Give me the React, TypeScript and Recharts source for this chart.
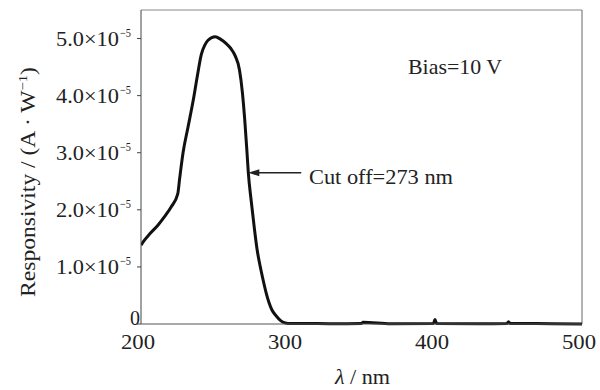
import React from "react";
import { LineChart, Line, XAxis, YAxis, ReferenceLine } from "recharts";

const wavelengths = [200, 201.5, 206, 211.5, 216, 220.5, 225, 226.3, 228.6, 232, 235.4, 238.3, 241, 243.5, 245.6, 250.5, 254, 258, 261, 264, 267, 269, 270.5, 272, 273, 275, 277, 279, 281, 283, 285, 287, 289, 292, 295, 298, 300, 310, 330, 350, 351, 370, 399, 400, 401, 430, 449, 450, 451, 480, 500];
const responsivity = [1.38, 1.44, 1.58, 1.73, 1.88, 2.05, 2.28, 2.55, 3.00, 3.45, 3.90, 4.34, 4.72, 4.89, 4.97, 5.03, 4.99, 4.91, 4.83, 4.70, 4.45, 4.05, 3.60, 3.05, 2.65, 2.15, 1.70, 1.30, 1.02, 0.78, 0.56, 0.38, 0.25, 0.14, 0.06, 0.02, 0.01, 0.01, 0.005, 0.01, 0.03, 0.005, 0.01, 0.08, 0.01, 0.005, 0.01, 0.04, 0.01, 0.005, 0.0];
const xTicks = [200, 300, 400, 500];
const yTicks = [0, 1, 2, 3, 4, 5];
const yTickLabels = ["0", "1.0×10", "2.0×10", "3.0×10", "4.0×10", "5.0×10"];
const cutoff = { x: 273, y: 2.65, labelX: 309 };

const data = wavelengths.map((w, i) => ({ wavelength: w, r: responsivity[i] }));

const FONT = "'Liberation Serif', 'DejaVu Serif', serif";
const INK = "#222";

const XTick = (props: any) => {
  const { x, y, payload } = props;
  return (
    <text x={x - 3} y={y + 17} textAnchor="middle" fontFamily={FONT} fontSize={22} fill={INK}
      textLength={34} lengthAdjust="spacingAndGlyphs">
      {String(payload.value)}
    </text>
  );
};

const YTick = (props: any) => {
  const { x, y, payload } = props;
  const idx = yTicks.indexOf(payload.value);
  const label = yTickLabels[idx];
  const ax = x + 4;
  if (payload.value === 0) {
    return (
      <text x={ax + 1} y={y + 1} textAnchor="end" fontFamily={FONT} fontSize={20} fill={INK}>
        {label}
      </text>
    );
  }
  return (
    <g>
      <text x={ax - 83} y={y + 7} textAnchor="start" fontFamily={FONT} fontSize={20} fill={INK}
        textLength={63} lengthAdjust="spacingAndGlyphs">
        {label}
      </text>
      <text x={ax - 19} y={y - 2} textAnchor="start" fontFamily={FONT} fontSize={12} fill={INK}
        textLength={11} lengthAdjust="spacingAndGlyphs">
        −5
      </text>
    </g>
  );
};

const ArrowShape = (props: any) => {
  const { x1, y1, x2 } = props;
  const tipX = Math.min(x1, x2);
  const endX = Math.max(x1, x2);
  const yy = y1;
  return (
    <g>
      <line x1={tipX + 6} y1={yy} x2={endX} y2={yy} stroke={INK} strokeWidth={1.6} />
      <polygon points={`${tipX},${yy} ${tipX + 11},${yy - 3.5} ${tipX + 11},${yy + 3.5}`} fill={INK} />
    </g>
  );
};

export default function App() {
  return (
    <div style={{ position: "absolute", left: 0, top: 0, width: 600, height: 390, background: "#fff" }}>
      <LineChart width={600} height={390} data={data} margin={{ top: 10, right: 18, bottom: 0, left: 0 }}>
        <XAxis
          dataKey="wavelength"
          type="number"
          domain={[200, 500]}
          ticks={xTicks}
          allowDataOverflow
          height={66}
          tickLine={false}
          tick={<XTick />}
          stroke="#555"
          strokeWidth={1}
        />
        <YAxis
          type="number"
          domain={[0, 5.5]}
          ticks={yTicks}
          width={141}
          tickSize={4}
          tick={<YTick />}
          stroke="#444"
          strokeWidth={1}
          interval={0}
        />
        <ReferenceLine y={5.5} stroke="#888" strokeWidth={1} ifOverflow="extendDomain" />
        <ReferenceLine x={500} stroke="#666" strokeWidth={1} />
        <ReferenceLine
          segment={[{ x: cutoff.x, y: cutoff.y }, { x: cutoff.labelX, y: cutoff.y }]}
          shape={<ArrowShape />}
        />
        <Line
          type="monotone"
          dataKey="r"
          stroke="#111"
          strokeWidth={3}
          dot={false}
          isAnimationActive={false}
        />
      </LineChart>
      <svg width={600} height={390} style={{ position: "absolute", left: 0, top: 0, pointerEvents: "none" }}>
        <text x={408} y={74} fontFamily={FONT} fontSize={22} fill={INK} textLength={94} lengthAdjust="spacingAndGlyphs">
          Bias=10 V
        </text>
        <text x={309} y={184} fontFamily={FONT} fontSize={22} fill={INK} textLength={144} lengthAdjust="spacingAndGlyphs">
          Cut off=273 nm
        </text>
        <text x={335} y={384} fontFamily={FONT} fontSize={21} fill={INK} textLength={55} lengthAdjust="spacingAndGlyphs">
          <tspan fontStyle="italic">λ</tspan> / nm
        </text>
        <text transform="translate(35,182) rotate(-90)" textAnchor="middle" fontFamily={FONT} fontSize={21} fill={INK}
          textLength={230} lengthAdjust="spacingAndGlyphs">
          Responsivity / (A · W<tspan dy={-8} fontSize={13}>−1</tspan><tspan dy={8}>)</tspan>
        </text>
      </svg>
    </div>
  );
}
